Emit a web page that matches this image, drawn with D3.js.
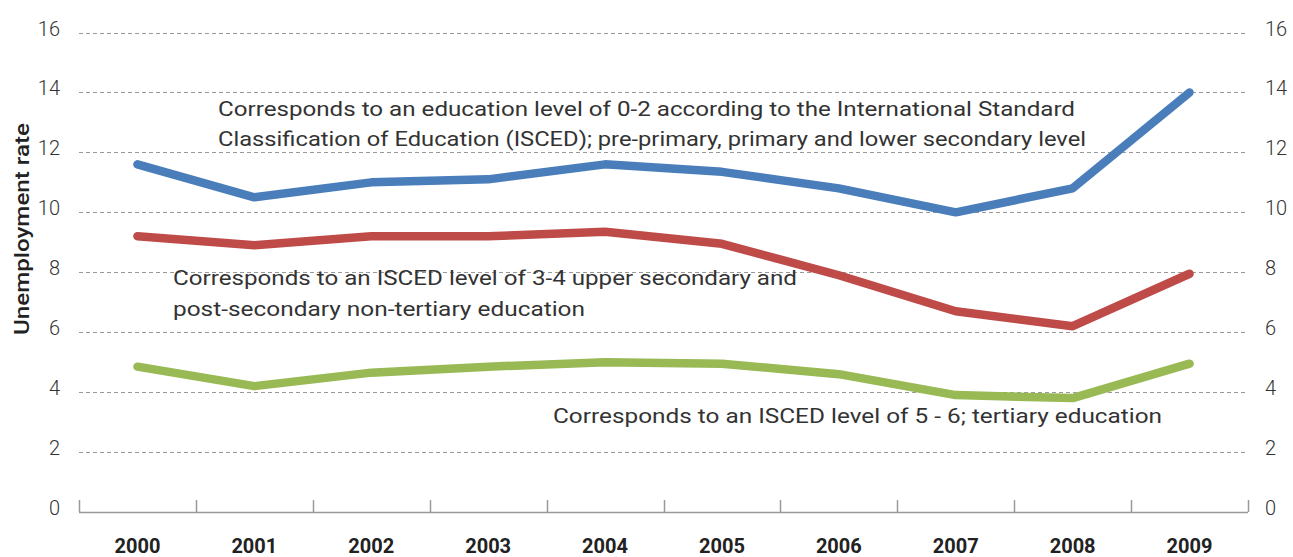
<!DOCTYPE html>
<html><head><meta charset="utf-8">
<script src="https://cdn.jsdelivr.net/npm/d3@7"></script>
<style>body{margin:0;background:#fff}svg{display:block}text{font-family:Roboto,"DejaVu Sans",sans-serif}</style>
</head><body>
<svg id="c" width="1293" height="557"></svg>
<script>
const years = ["2000","2001","2002","2003","2004","2005","2006","2007","2008","2009"];
const isced02 = [11.6, 10.5, 11.0, 11.1, 11.6, 11.35, 10.8, 10.0, 10.8, 14.0];
const isced34 = [9.2, 8.9, 9.2, 9.2, 9.35, 8.95, 7.9, 6.7, 6.2, 7.95];
const isced56 = [4.85, 4.2, 4.65, 4.85, 5.0, 4.95, 4.6, 3.9, 3.8, 4.95];
const yTicks = [0, 2, 4, 6, 8, 10, 12, 14, 16];
const yTitle = "Unemployment rate";
const notes = [
  {lines:["Corresponds to an education level of 0-2 according to the International Standard","Classification of Education (ISCED); pre-primary, primary and lower secondary level"], widths:[857,868]},
  {lines:["Corresponds to an ISCED level of 3-4 upper secondary and","post-secondary non-tertiary education"], widths:[624,412]},
  {lines:["Corresponds to an ISCED level of 5 - 6; tertiary education"], widths:[609]}
];
const series = [
  {values: isced02, color: "#4a7ebb"},
  {values: isced34, color: "#be4b48"},
  {values: isced56, color: "#98b954"}
];

const svg = d3.select("#c");
const x = d3.scaleBand().domain(years).range([79, 1248]).padding(0);
const y = d3.scaleLinear().domain([0, 16]).range([512, 32.5]);

// gridlines
svg.append("g").selectAll("line").data(yTicks.filter(d => d > 0)).join("line")
  .attr("x1", 79).attr("x2", 1248)
  .attr("y1", d => Math.round(y(d)) + 0.5).attr("y2", d => Math.round(y(d)) + 0.5)
  .attr("stroke", "#999").attr("stroke-width", 1).attr("stroke-dasharray", "4,3");

// left & right tick labels
const lab = svg.append("g").attr("font-size", 20).attr("font-weight", 300).attr("fill", "#333");
lab.selectAll("text.l").data(yTicks).join("text").attr("class","l")
  .attr("x", 60).attr("y", d => y(d) + 3).attr("text-anchor", "end").text(d => d);
lab.selectAll("text.r").data(yTicks).join("text").attr("class","r")
  .attr("x", 1265).attr("y", d => y(d) + 3).attr("text-anchor", "start").text(d => d);

// x axis
const xb = svg.append("g");
xb.append("line").attr("x1", 79).attr("x2", 1248).attr("y1", 512.5).attr("y2", 512.5).attr("stroke", "#999").attr("stroke-width", 1.5);
const bounds = years.map(d => x(d)).concat([x.range()[1]]);
xb.selectAll("line.t").data(bounds).join("line").attr("class","t")
  .attr("x1", d => Math.round(d) + 0.5).attr("x2", d => Math.round(d) + 0.5)
  .attr("y1", 500).attr("y2", 512).attr("stroke", "#999").attr("stroke-width", 1.5);
xb.selectAll("text").data(years).join("text")
  .attr("x", d => x(d) + x.bandwidth() / 2).attr("y", 553)
  .attr("text-anchor", "middle").attr("font-size", 20).attr("font-weight", "bold").attr("fill", "#222")
  .text(d => d);

// y title
svg.append("text").attr("transform", "translate(29,229) rotate(-90)")
  .attr("text-anchor", "middle").attr("font-size", 21).attr("font-weight", 500).attr("fill", "#222")
  .attr("textLength", 212).attr("lengthAdjust", "spacingAndGlyphs").text(yTitle);

// lines
const line = d3.line().x((d, i) => x(years[i]) + x.bandwidth() / 2).y(d => y(d));
svg.append("g").selectAll("path").data(series).join("path")
  .attr("d", d => line(d.values)).attr("fill", "none")
  .attr("stroke", d => d.color).attr("stroke-width", 8.5).attr("stroke-linejoin", "round").attr("stroke-linecap", "round");

// annotations
const notePos = [{x:218, y:[116,146]}, {x:173, y:[285,316]}, {x:553, y:[423]}];
notes.forEach((n, i) => {
  n.lines.forEach((t, j) => {
    svg.append("text").attr("x", notePos[i].x).attr("y", notePos[i].y[j])
      .attr("font-size", 21).attr("fill", "#333")
      .attr("textLength", n.widths[j]).attr("lengthAdjust", "spacingAndGlyphs").text(t);
  });
});
</script>
</body></html>
